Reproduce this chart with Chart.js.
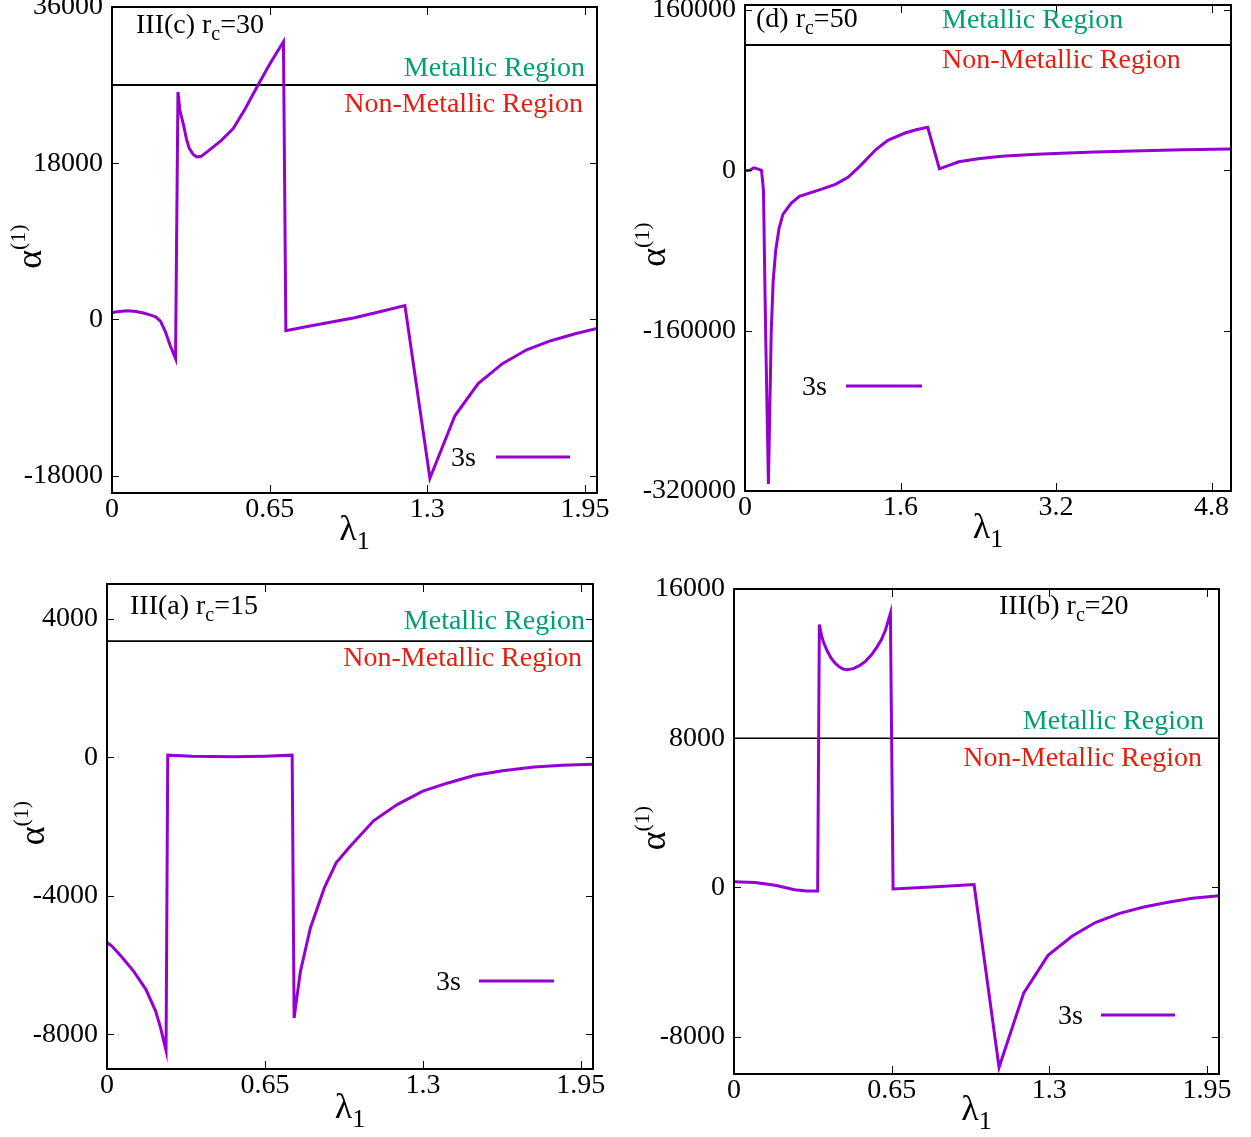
<!DOCTYPE html>
<html>
<head>
<meta charset="utf-8">
<script src="https://cdn.jsdelivr.net/npm/chart.js@4.4.0/dist/chart.umd.min.js"></script>
<style>
  html, body { margin: 0; padding: 0; background: #fff; }
  body { width: 1251px; height: 1137px; position: relative; overflow: hidden; }
  canvas { position: absolute; }
</style>
</head>
<body>
<canvas id="panelC" width="625" height="595" style="left:0px;top:-30px"></canvas>
<canvas id="panelD" width="626" height="595" style="left:625px;top:-30px"></canvas>
<canvas id="panelA" width="625" height="572" style="left:0px;top:565px"></canvas>
<canvas id="panelB" width="626" height="572" style="left:625px;top:565px"></canvas>
<script>
// III(c) r_c=30
const lambdaC = [0, 0.03, 0.065, 0.1, 0.13, 0.16, 0.18, 0.2, 0.22, 0.24,
    0.262, 0.272, 0.28, 0.295, 0.307, 0.318, 0.335, 0.35, 0.368, 0.392,
    0.45, 0.5, 0.55, 0.6, 0.65, 0.707, 0.717, 0.8, 0.9, 1.0,
    1.1, 1.208, 1.311, 1.414, 1.51, 1.61, 1.71, 1.81, 1.91, 2.0];
const alphaC = [800, 920, 1000, 920, 740, 500, 300, -200, -1400, -3000,
    -4500, 26200, 24100, 22400, 20800, 19750, 19000, 18720, 18800, 19300,
    20600, 22000, 24300, 26900, 29400, 32000, -1300, -850, -330, 200,
    850, 1600, -18300, -11100, -7400, -5100, -3500, -2450, -1650, -1050];

// (d) r_c=50
const lambdaD = [0, 0.05, 0.09, 0.13, 0.17, 0.19, 0.212, 0.241, 0.255, 0.27,
    0.29, 0.316, 0.35, 0.39, 0.474, 0.56, 0.75, 0.93, 1.06, 1.18,
    1.35, 1.47, 1.64, 1.76, 1.88, 2.0, 2.2, 2.4, 2.64, 3.0,
    3.26, 3.6, 4.09, 4.5, 5.0];
const alphaD = [-500, 0, 2500, 1500, 0, -20000, -160000, -313000, -240000, -160000,
    -110000, -80000, -58000, -44000, -33000, -26000, -20000, -14000, -7000, 4000,
    21000, 30000, 37000, 40500, 43000, 1500, 8500, 11500, 14000, 16000,
    17000, 18300, 19600, 20500, 21400];

// III(a) r_c=15
const lambdaA = [0, 0.02, 0.06, 0.11, 0.16, 0.2, 0.22, 0.243, 0.25, 0.35,
    0.52, 0.65, 0.762, 0.77, 0.796, 0.837, 0.894, 0.943, 1.0, 1.098,
    1.196, 1.3, 1.4, 1.514, 1.628, 1.758, 1.873, 2.0];
const alphaA = [-5350, -5450, -5760, -6180, -6700, -7330, -7800, -8470, 60, 30,
    10, 30, 60, -7530, -6180, -4930, -3780, -3050, -2580, -1830,
    -1360, -980, -750, -520, -390, -280, -230, -200];

// III(b) r_c=20
const lambdaB = [0, 0.086, 0.17, 0.25, 0.3, 0.345, 0.352, 0.36, 0.368, 0.385,
    0.4, 0.417, 0.434, 0.45, 0.467, 0.492, 0.517, 0.542, 0.567, 0.59,
    0.608, 0.624, 0.645, 0.656, 0.815, 0.99, 1.093, 1.195, 1.295, 1.395,
    1.49, 1.59, 1.69, 1.79, 1.89, 2.0];
const alphaB = [300, 270, 120, -120, -190, -190, 14100, 13570, 13180, 12660,
    12310, 12020, 11830, 11710, 11670, 11730, 11890, 12120, 12470, 12900,
    13290, 13770, 14700, -80, 30, 160, -9640, -5650, -3640, -2600,
    -1880, -1390, -1050, -790, -580, -440];

// tick labels
const lambdaTicks = [0, 0.65, 1.3, 1.95];
const lambdaTicksD = [0, 1.6, 3.2, 4.8];
const alphaTicksC = [-18000, 0, 18000, 36000];
const alphaTicksD = [-320000, -160000, 0, 160000];
const alphaTicksA = [-8000, -4000, 0, 4000];
const alphaTicksB = [-8000, 0, 8000, 16000];

// metallic / non-metallic boundary
const boundaryC = 27000;
const boundaryD = 125000;
const boundaryA = 3350;
const boundaryB = 8000;

const SERIF = '"Liberation Serif", "Times New Roman", "DejaVu Serif", serif';
const VIOLET = '#9400d3';
const GREEN = '#009e73';
const RED = '#e51e10';
const font = size => size + 'px ' + SERIF;

function drawRich(ctx, parts, x, y, align) {
    let total = 0;
    parts.forEach(p => {
        ctx.font = font(p.size);
        p.w = ctx.measureText(p.text).width;
        total += p.w;
    });
    let cx = align === 'right' ? x - total : (align === 'center' ? x - total / 2 : x);
    ctx.textAlign = 'left';
    ctx.textBaseline = 'alphabetic';
    parts.forEach(p => {
        ctx.font = font(p.size);
        ctx.fillText(p.text, cx, y + (p.dy || 0));
        cx += p.w;
    });
}

// gnuplot-like frame, inward ticks, labels and key
function makeFramePlugin(panel) {
    return {
        id: 'frame_' + panel.id,
        afterDatasetsDraw(chart) {
            const { ctx, chartArea: a, scales: { x, y } } = chart;
            ctx.save();
            ctx.strokeStyle = '#000';
            ctx.lineWidth = 1;
            ctx.beginPath();
            panel.xTicks.forEach(v => {
                const px = Math.round(x.getPixelForValue(v)) + 0.5;
                ctx.moveTo(px, a.bottom); ctx.lineTo(px, a.bottom - 8);
                ctx.moveTo(px, a.top); ctx.lineTo(px, a.top + 8);
            });
            panel.yTicks.forEach(v => {
                const py = Math.round(y.getPixelForValue(v)) + 0.5;
                ctx.moveTo(a.left, py); ctx.lineTo(a.left + 7, py);
                ctx.moveTo(a.right, py); ctx.lineTo(a.right - 7, py);
            });
            ctx.stroke();
            ctx.lineWidth = 2;
            ctx.strokeRect(a.left, a.top, a.right - a.left, a.bottom - a.top);

            ctx.fillStyle = '#000';
            const t = panel.tag;
            drawRich(ctx, [
                { text: t.text, size: 28 },
                { text: 'c', size: 20, dy: 7 },
                { text: t.value, size: 28 }
            ], a.left + t.dx, a.top + t.dy, 'left');

            const lineY = y.getPixelForValue(panel.boundary);
            const r = panel.regions;
            const rx = r.align === 'right' ? a.right : a.left;
            ctx.fillStyle = GREEN;
            drawRich(ctx, [{ text: 'Metallic Region', size: 28 }], rx + r.metalX, lineY + r.metalDy, r.align);
            ctx.fillStyle = RED;
            drawRich(ctx, [{ text: 'Non-Metallic Region', size: 28 }], rx + r.nonX, lineY + r.nonDy, r.align);

            const k = panel.key;
            const kx = k.fromRight ? a.right : a.left;
            const ky = a.bottom - k.up;
            ctx.strokeStyle = VIOLET;
            ctx.lineWidth = 3;
            ctx.beginPath();
            ctx.moveTo(kx + k.x1, ky); ctx.lineTo(kx + k.x2, ky);
            ctx.stroke();
            ctx.fillStyle = '#000';
            drawRich(ctx, [{ text: '3s', size: 28 }], kx + k.textRight, ky + 9, 'right');

            drawRich(ctx, [
                { text: 'λ', size: 36 },
                { text: '1', size: 26, dy: 9 }
            ], (a.left + a.right) / 2, a.bottom + panel.xLabelDy, 'center');

            ctx.translate(a.left + panel.yLabelDx, (a.top + a.bottom) / 2);
            ctx.rotate(-Math.PI / 2);
            drawRich(ctx, [{ text: 'α', size: 36 }], 0, 0, 'right');
            drawRich(ctx, [{ text: '(1)', size: 22, dy: -16 }], 0, 0, 'left');
            ctx.restore();
        }
    };
}

function makePanel(panel) {
    const canvas = document.getElementById(panel.id);
    const box = panel.canvasBox;
    const plot = panel.plot;
    const xAxisH = 40;
    const yAxisW = plot.left - box.left - 2;
    const padding = {
        left: 2,
        top: plot.top - box.top,
        right: box.left + box.width - plot.right,
        bottom: box.top + box.height - plot.bottom - xAxisH
    };

    new Chart(canvas, {
        type: 'line',
        data: {
            datasets: [{
                data: panel.xs.map((v, i) => ({ x: v, y: panel.ys[i] })),
                borderColor: VIOLET,
                borderWidth: 3,
                pointRadius: 0,
                tension: 0,
                order: 1
            }, {
                data: [{ x: panel.xMin, y: panel.boundary }, { x: panel.xMax, y: panel.boundary }],
                borderColor: '#000',
                borderWidth: panel.boundaryWidth,
                pointRadius: 0,
                order: 2
            }]
        },
        options: {
            responsive: false,
            animation: false,
            devicePixelRatio: 1,
            layout: { autoPadding: false, padding: padding },
            plugins: { legend: { display: false }, tooltip: { enabled: false } },
            scales: {
                x: {
                    type: 'linear',
                    min: panel.xMin,
                    max: panel.xMax,
                    afterBuildTicks: s => { s.ticks = panel.xTicks.map(v => ({ value: v })); },
                    afterFit: s => { s.height = xAxisH; },
                    grid: { display: false, drawTicks: false },
                    border: { display: false },
                    ticks: { font: { family: SERIF, size: 28 }, color: '#000', padding: 0, maxRotation: 0,
                        autoSkip: false, callback: v => String(v) }
                },
                y: {
                    type: 'linear',
                    min: panel.yMin,
                    max: panel.yMax,
                    afterBuildTicks: s => { s.ticks = panel.yTicks.map(v => ({ value: v })); },
                    afterFit: s => { s.width = yAxisW; },
                    grid: { display: false, drawTicks: false },
                    border: { display: false },
                    ticks: { font: { family: SERIF, size: 28, lineHeight: 0.2 }, color: '#000', padding: 9,
                        autoSkip: false, callback: v => String(v) }
                }
            }
        },
        plugins: [makeFramePlugin(panel)]
    });
}

makePanel({
    id: 'panelC',
    canvasBox: { left: 0, top: -30, width: 625, height: 595 },
    plot: { left: 112, top: 7, right: 597, bottom: 493 },
    xs: lambdaC, ys: alphaC,
    xMin: 0, xMax: 2, yMin: -20000, yMax: 36000,
    xTicks: lambdaTicks, yTicks: alphaTicksC,
    boundary: boundaryC, boundaryWidth: 2,
    tag: { text: 'III(c) r', value: '=30', dx: 24, dy: 26 },
    regions: { align: 'right', metalX: -12, metalDy: -9, nonX: -14, nonDy: 27 },
    key: { fromRight: true, x1: -101, x2: -27, textRight: -121, up: 36 },
    xLabelDy: 47, yLabelDx: -71
});

makePanel({
    id: 'panelD',
    canvasBox: { left: 625, top: -30, width: 626, height: 595 },
    plot: { left: 745, top: 5, right: 1231, bottom: 491 },
    xs: lambdaD, ys: alphaD,
    xMin: 0, xMax: 5, yMin: -320000, yMax: 165000,
    xTicks: lambdaTicksD, yTicks: alphaTicksD,
    boundary: boundaryD, boundaryWidth: 2,
    tag: { text: '(d) r', value: '=50', dx: 11, dy: 22 },
    regions: { align: 'left', metalX: 197, metalDy: -17, nonX: 197, nonDy: 23 },
    key: { fromRight: false, x1: 101, x2: 177, textRight: 82, up: 105 },
    xLabelDy: 47, yLabelDx: -80
});

makePanel({
    id: 'panelA',
    canvasBox: { left: 0, top: 565, width: 625, height: 572 },
    plot: { left: 107, top: 584, right: 593, bottom: 1069 },
    xs: lambdaA, ys: alphaA,
    xMin: 0, xMax: 2, yMin: -9000, yMax: 5000,
    xTicks: lambdaTicks, yTicks: alphaTicksA,
    boundary: boundaryA, boundaryWidth: 1.6,
    tag: { text: 'III(a) r', value: '=15', dx: 23, dy: 30 },
    regions: { align: 'right', metalX: -8, metalDy: -12, nonX: -11, nonDy: 25 },
    key: { fromRight: true, x1: -114, x2: -39, textRight: -132, up: 88 },
    xLabelDy: 49, yLabelDx: -63
});

makePanel({
    id: 'panelB',
    canvasBox: { left: 625, top: 565, width: 626, height: 572 },
    plot: { left: 734, top: 589, right: 1219, bottom: 1074 },
    xs: lambdaB, ys: alphaB,
    xMin: 0, xMax: 2, yMin: -10000, yMax: 16000,
    xTicks: lambdaTicks, yTicks: alphaTicksB,
    boundary: boundaryB, boundaryWidth: 1.6,
    tag: { text: 'III(b) r', value: '=20', dx: 265, dy: 25 },
    regions: { align: 'right', metalX: -15, metalDy: -9, nonX: -17, nonDy: 28 },
    key: { fromRight: true, x1: -118, x2: -44, textRight: -136, up: 59 },
    xLabelDy: 46, yLabelDx: -69
});
</script>
</body>
</html>
